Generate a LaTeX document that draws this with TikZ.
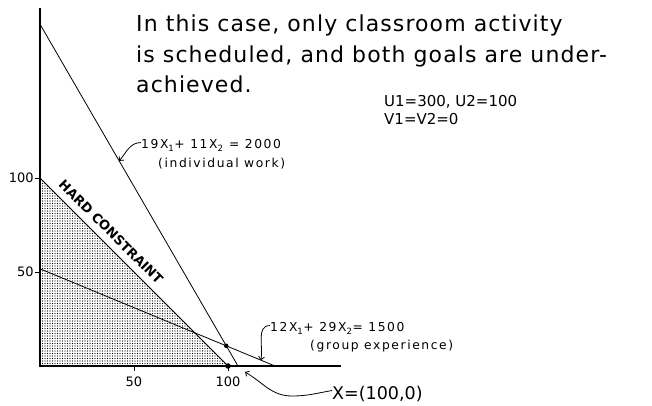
\documentclass[tikz,border=0pt]{standalone}
\usepackage{fontspec}
\setmainfont{DejaVu Sans}
\newfontfamily\notefont{DejaVu Sans}[LetterSpace=13]
\newfontfamily\headfont{DejaVu Sans}[LetterSpace=5]
\usetikzlibrary{arrows.meta, patterns.meta, positioning, calc}

\begin{document}
\begin{tikzpicture}[
    x=1pt, y=1pt,
    axis/.style={line width=1.3pt},
    goal/.style={line width=0.8pt},
    tick/.style={line width=0.8pt},
    ticklabel/.style={font=\fontsize{13}{13}\selectfont, inner sep=1pt},
    eqlabel/.style={font=\notefont\fontsize{12.3}{12.3}\selectfont, inner sep=0pt, anchor=base west},
    remark/.style={font=\fontsize{15}{18}\selectfont, inner sep=0pt, anchor=base west, align=left},
    headline/.style={font=\headfont\fontsize{22}{30.5}\selectfont, inner sep=0pt, anchor=base west, align=left},
    hardlabel/.style={font=\bfseries\fontsize{13}{13}\selectfont, inner sep=0pt, rotate=-45, anchor=south},
    squiggle/.style={line width=0.8pt, -{Straight Barb[length=3pt,width=6pt]}},
    dot/.style={circle, fill=black, inner sep=0pt, minimum size=5.5pt},
]

\useasboundingbox (0,0) rectangle (652,406);

% plot area, origin of the axes at (40,40), one unit = 1.88
\begin{scope}[shift={(40,40)}, x=1.88pt, y=1.88pt]
    \coordinate (O) at (0,0);
    \coordinate (ytop) at (0,190.4);
    \coordinate (xend) at (160,0);
    \coordinate (h1) at (0,100);
    \coordinate (h2) at (100,0);
    \coordinate (i1) at (0,181.8);
    \coordinate (i2) at (105.3,0);
    \coordinate (g1) at (0,51.7);
    \coordinate (g2) at (125,0);
    \coordinate (meet) at (99.05,10.74);
    \coordinate (x50) at (50,0);
    \coordinate (y50) at (0,50);

    % feasible region
    \fill[pattern={Dots[distance=2.5pt, radius=0.55pt]}] (O) -- (h1) -- (h2) -- cycle;
    \draw[goal] (h1) -- (h2);

    % goal lines
    \draw[goal] (i1) -- (i2);
    \draw[goal] (g1) -- (g2);

    % axes
    \draw[axis] (ytop) -- (O) -- (xend);
    \draw[tick] (h1) -- ++(-5pt,0) node[ticklabel, left] (lab100) {100};
    \draw[tick] (y50) -- ++(-5pt,0) node[ticklabel, left] (lab50) {50};
    \draw[tick] (x50) -- ++(0,-5pt) node[ticklabel, below=4pt] (labx50) {50};
    \draw[tick] (h2) -- ++(0,-5pt) node[ticklabel, below=4pt] (labx100) {100};

    \node[hardlabel] (hard) at ($(h1)!0.332!(h2) + (4.9pt,4.9pt)$) {HARD CONSTRAINT};

    \node[dot] (xsol) at (h2) {};
    \node[dot, minimum size=4.5pt] (cross) at (meet) {};

    \coordinate (indtip) at ($(i1)!0.40!(i2)$);
    \coordinate (grptip) at ($(g1)!0.94!(g2)$);
    \coordinate (xtip) at ($(h2) + (17pt,-6pt)$);
\end{scope}

% texts
\node[headline] (head) at (136,313) {In this case, only classroom activity\\is scheduled, and both goals are under-\\achieved.};
\node[remark] (devs) at (384,281) {U1=300, U2=100\\V1=V2=0};

\node[eqlabel] (indeq) at (141,257) {19X\textsubscript{1}+ 11X\textsubscript{2} = 2000};
\node[eqlabel] (indname) at (158,238) {(individual work)};
\node[eqlabel] (grpeq) at (270,74) {12X\textsubscript{1}+ 29X\textsubscript{2}= 1500};
\node[eqlabel] (grpname) at (310,56) {(group experience)};
\node[font=\fontsize{17.5}{17.5}\selectfont, inner sep=0pt, anchor=base west] (xlab) at (332,6) {X=(100,0)};

% pointers
\coordinate (xbend) at (292,10);
\draw[squiggle] ([yshift=3pt]indeq.west) to[out=180, in=50] (indtip);
\draw[squiggle] ([yshift=3pt]grpeq.west) to[out=180, in=80] (grptip);
\draw[squiggle] ([yshift=4pt]xlab.west) to[out=190, in=0] (xbend) to[out=180, in=-30] (xtip);

\end{tikzpicture}
\end{document}
